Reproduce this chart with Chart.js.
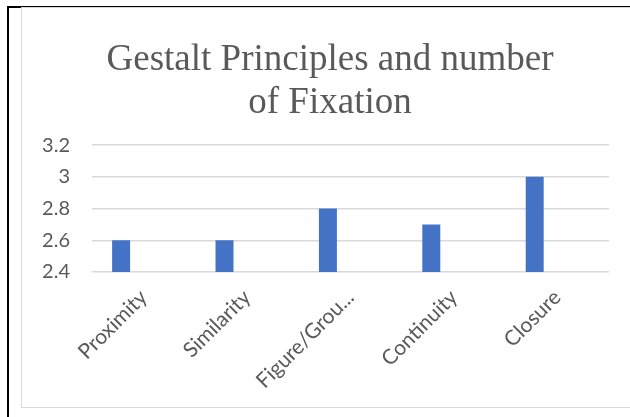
<!DOCTYPE html>
<html>
<head>
<meta charset="utf-8">
<script src="https://cdn.jsdelivr.net/npm/chart.js@4/dist/chart.umd.min.js"></script>
<style>
  html, body { margin: 0; padding: 0; background: #fff; overflow: hidden; }
  body { width: 630px; height: 417px; position: relative; }
  #frame {
    position: absolute; left: 7px; top: 6px; width: 640px; height: 420px;
    border-top: 2px solid #000; border-left: 2px solid #000;
  }
  #box {
    position: absolute; left: 21px; top: 7px; width: 618px; height: 401px;
    box-sizing: border-box; border: 1px solid #d9d9d9; background: #fff;
  }
</style>
</head>
<body>
<div id="frame"></div>
<div id="box"><canvas id="fixChart"></canvas></div>
<script>
// categories and fixation counts
var principles = ['Proximity', 'Similarity', 'Figure/Grou...', 'Continuity', 'Closure'];
var fixations = [2.6, 2.6, 2.8, 2.7, 3.0];
// second series has no values, it only keeps the empty slot beside each bar
var emptySeries = [null, null, null, null, null];
var yTicks = [2.4, 2.6, 2.8, 3.0, 3.2];

var grey = '#595959';

// centre the title on the whole canvas, not on the padded area
var wideTitle = {
    id: 'wideTitle',
    afterLayout: function (chart) {
        if (chart.titleBlock) {
            chart.titleBlock.left = 0;
            chart.titleBlock.right = chart.width;
        }
    }
};

var ctx = document.getElementById('fixChart').getContext('2d');
var chart = new Chart(ctx, {
    type: 'bar',
    data: {
        labels: principles,
        datasets: [{
            label: 'Fixation',
            backgroundColor: '#4472C4',
            data: fixations,
            categoryPercentage: 0.874,
            barPercentage: 0.398
        }, {
            label: 'Series 2',
            backgroundColor: '#ED7D31',
            data: emptySeries,
            categoryPercentage: 0.874,
            barPercentage: 0.398
        }]
    },
    plugins: [wideTitle],
    options: {
        responsive: true,
        maintainAspectRatio: false,
        animation: false,
        layout: { padding: { left: 0, right: 29, top: 0, bottom: 0 } },
        plugins: {
            legend: { display: false },
            tooltip: { enabled: false },
            title: {
                display: true,
                text: ['Gestalt Principles and number', 'of Fixation'],
                color: grey,
                font: { family: '"Liberation Serif", "Times New Roman", serif', size: 37, weight: 'normal', lineHeight: 1.15 },
                padding: { top: 31, bottom: 21 }
            }
        },
        scales: {
            x: {
                grid: { display: false },
                border: { display: false },
                ticks: {
                    color: grey,
                    font: { family: 'Lato', size: 21 },
                    minRotation: 45,
                    maxRotation: 45,
                    autoSkip: false,
                    padding: 5
                },
                afterFit: function (scale) { scale.height = 135; }
            },
            y: {
                min: 2.4,
                max: 3.2,
                afterBuildTicks: function (scale) {
                    scale.ticks = yTicks.map(function (v) { return { value: v }; });
                },
                grid: { color: '#d9d9d9', lineWidth: 1.5, drawTicks: false },
                border: { display: false },
                ticks: {
                    color: grey,
                    font: { family: 'Lato', size: 20 },
                    padding: 22,
                    callback: function (v) { return String(Number(v.toFixed(1))); }
                },
                afterFit: function (scale) { scale.width = 70; }
            }
        }
    }
});
</script>
</body>
</html>
